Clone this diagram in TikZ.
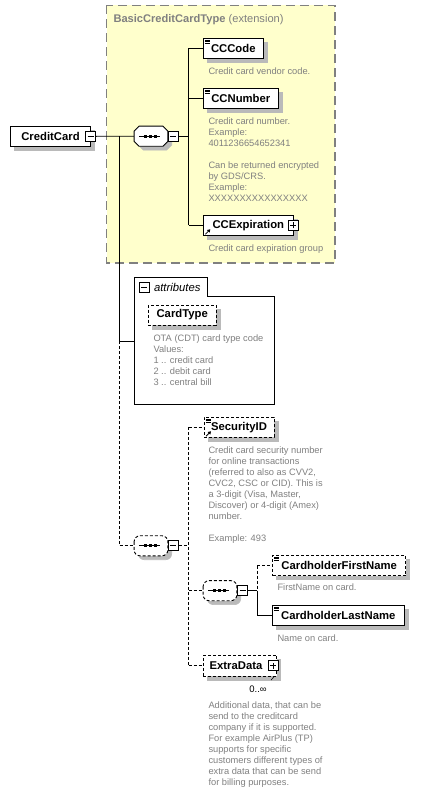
\documentclass[tikz,border=0pt]{standalone}
\usepackage{fontspec}
\setmainfont{Liberation Sans}
\usetikzlibrary{calc,arrows.meta}
\definecolor{ylw}{RGB}{255,255,204}
\definecolor{dgray}{RGB}{128,128,128}
\definecolor{shd}{RGB}{186,186,186}
\pgfdeclarelayer{back}
\pgfdeclarelayer{wires}
\pgfsetlayers{back,wires,main}
\newcommand\docico[1]{%
  \draw[line width=0.6pt] ($(#1.north west)+(2,2)$) -- ++(5,0);
  \draw[line width=0.6pt] ($(#1.north west)+(2,3.6)$) -- ++(5,0);
  \draw[line width=0.6pt] ($(#1.north west)+(2,5.2)$) -- ++(5,0);}
\newcommand\refico[1]{%
  \draw[line width=0.8pt,-{Triangle[length=3pt,width=3.5pt]}] ($(#1.south west)+(2.5,-1.5)$) -- ($(#1.south west)+(7.5,-6.5)$);}
\newcommand\seqsym[1]{%
  \draw[line width=0.9pt] ($(#1.center)+(-12,0)$) -- ($(#1.center)+(9,0)$);
  \fill ($(#1.center)+(-7.5,-1.5)$) rectangle ++(3,3);
  \fill ($(#1.center)+(-2.5,-1.5)$) rectangle ++(3,3);
  \fill ($(#1.center)+(2.5,-1.5)$) rectangle ++(3,3);}
\begin{document}
\begin{tikzpicture}[x=1pt,y=-1pt,
  elem/.style={draw=black,fill=white,line width=0.9pt,inner sep=0pt,
    font=\fontsize{11.3}{13}\selectfont\bfseries},
  shadowbox/.style={fill=shd,draw=shd,line width=0.6pt},
  opt/.style={dash pattern=on 3pt off 2pt},
  wire/.style={line width=0.9pt,black},
  pmbox/.style={draw=black,fill=white,line width=0.9pt,minimum size=10pt,inner sep=0pt},
  minusbox/.style={pmbox,path picture={\draw[line width=0.9pt] ([xshift=-3pt]path picture bounding box.center) -- ([xshift=3pt]path picture bounding box.center);}},
  plusbox/.style={pmbox,path picture={\draw[line width=0.9pt] ([xshift=-3pt]path picture bounding box.center) -- ([xshift=3pt]path picture bounding box.center) ([yshift=-3pt]path picture bounding box.center) -- ([yshift=3pt]path picture bounding box.center);}},
  seqbox/.style={inner sep=0pt,minimum width=33.4pt,minimum height=19.7pt},
  desc/.style={anchor=north west,inner sep=0pt,align=left,text=dgray,
    font=\fontsize{9.3}{11}\selectfont}
]
\useasboundingbox (0,0) rectangle (434,792);

% extension box
\begin{pgfonlayer}{back}
\filldraw[fill=ylw,draw=dgray,line width=1.1pt,dash pattern=on 9pt off 5pt]
  (106.7,5.3) rectangle (335,263);
\end{pgfonlayer}
\node[anchor=base west,inner sep=0pt,text=dgray,font=\fontsize{11.1}{13}\selectfont]
  (title) at (113.3,23) {\textbf{BasicCreditCardType} (extension)};

% shadows
\filldraw[shadowbox] (14.3,130.3) rectangle (94.7,150);
\filldraw[shadowbox] (207.3,42.3) rectangle (267.3,62.3);
\filldraw[shadowbox] (207.3,92.3) rectangle (282.3,112.3);
\filldraw[shadowbox] (207.3,219.3) rectangle (297.3,239.3);
\filldraw[shadowbox] (208,421.3) rectangle (278,441.3);
\filldraw[shadowbox] (276.7,559.3) rectangle (409.7,579.7);
\filldraw[shadowbox] (276.3,609.3) rectangle (408.3,629.3);
\filldraw[shadowbox] (207.3,659.3) rectangle (280.7,680);
\filldraw[shadowbox] (143.3,130.3) -- (166.7,130.3) -- (171.7,135.3) -- (171.7,145) -- (166.7,150) -- (143.3,150) -- (138.3,145) -- (138.3,135.3) -- cycle;
\filldraw[shadowbox,rounded corners=6pt] (138.3,540) rectangle (171.7,559.7);
\filldraw[shadowbox,rounded corners=6pt] (207.3,584.9) rectangle (240.7,604.6);

% main element
\node[elem,minimum width=80.4pt,minimum height=19.7pt] (cc) at (50.5,136.2) {CreditCard};
\node[minusbox] (ccm) at (90.7,136.3) {};

% sequence 1
\node[seqbox] (seq1) at (151,136.2) {};
\filldraw[fill=white,line width=0.9pt] ($(seq1.north west)+(5,0)$) -- ($(seq1.north east)+(-5,0)$) -- ($(seq1.north east)+(0,5)$)
    -- ($(seq1.south east)+(0,-5)$) -- ($(seq1.south east)+(-5,0)$) -- ($(seq1.south west)+(5,0)$)
    -- ($(seq1.south west)+(0,-5)$) -- ($(seq1.north west)+(0,5)$) -- cycle;
\seqsym{seq1}
\node[minusbox] (seq1m) at (173.3,136.3) {};

\node[elem,minimum width=60pt,minimum height=20pt] (ccc) at (233.3,48.3) {CCCode};
\docico{ccc}
\node[desc] (cccd) at (208.3,66.3) {\strut Credit card vendor code.};

\node[elem,minimum width=75pt,minimum height=20pt] (ccn) at (240.8,98.3) {CCNumber};
\docico{ccn}
\node[desc] (ccnd) at (208.3,116.3) {\strut Credit card number.\\Example:\\4011236654652341\\[11pt]Can be returned encrypted\\by GDS/CRS.\\Example:\\XXXXXXXXXXXXXXXX};

\node[elem,minimum width=90pt,minimum height=20pt] (cce) at (248.3,225.3) {CCExpiration};
\refico{cce}
\node[plusbox] (cceplus) at (293.3,225.3) {};
\node[desc] (cced) at (208.3,243.3) {\strut Credit card expiration group};

% attributes
\draw[line width=0.9pt,fill=white] (134.3,277.3) -- (207.3,277.3) -- (207.3,296) -- (274.3,296) -- (274.3,404.3) -- (134.3,404.3) -- cycle;
\filldraw[shadowbox] (152.3,309) rectangle (220,329);
\node[minusbox] (attm) at (144.3,287.7) {};
\node[anchor=west,inner sep=0pt,font=\fontsize{11.3}{13}\selectfont\itshape] (attl) at (153.8,287) {attributes};
\coordinate (attrL) at (134.3,341);
\node[elem,opt,minimum width=67.7pt,minimum height=20pt] (ctype) at (182.2,315) {CardType};
\node[desc] (ctyped) at (153.3,333.3) {\strut OTA (CDT) card type code\\Values:\\1 .. credit card\\2 .. debit card\\3 .. central bill};

% sequence 2
\node[seqbox] (seq2) at (151,545.8) {};
\draw[fill=white,line width=0.9pt,opt,rounded corners=6pt] (seq2.north west) rectangle (seq2.south east);
\seqsym{seq2}
\node[minusbox] (seq2m) at (173.3,545.8) {};

\node[elem,opt,minimum width=70pt,minimum height=20pt] (sid) at (239,427.3) {SecurityID};
\docico{sid}
\refico{sid}
\node[desc] (sidd) at (208.3,445.6) {\strut Credit card security number\\for online transactions\\(referred to also as CVV2,\\CVC2, CSC or CID). This is\\a 3-digit (Visa, Master,\\Discover) or 4-digit (Amex)\\number.\\[11pt]Example: 493};

% sequence 3
\node[seqbox] (seq3) at (220,590.7) {};
\draw[fill=white,line width=0.9pt,opt,rounded corners=6pt] (seq3.north west) rectangle (seq3.south east);
\seqsym{seq3}
\node[minusbox] (seq3m) at (242.7,590.7) {};

\node[elem,opt,minimum width=133pt,minimum height=20.4pt] (fn) at (339.2,565.5) {CardholderFirstName};
\docico{fn}
\node[desc] (fnd) at (277.3,582.9) {\strut FirstName on card.};

\node[elem,minimum width=132pt,minimum height=20pt] (ln) at (338.3,615.3) {CardholderLastName};
\docico{ln}
\node[desc] (lnd) at (277.3,633.3) {\strut Name on card.};

\node[elem,opt,minimum width=73.4pt,minimum height=20.7pt] (xd) at (240,665.7) {\hspace*{-8pt}ExtraData};
\node[plusbox] (xdplus) at (273.3,665.7) {};
\draw[line width=0.6pt] ($(xd.south east)+(-3,0)$) -- ++(-3,3.5);
\node[inner sep=0pt,font=\fontsize{9.5}{11}\selectfont] (xdm) at (258,689) {0..∞};
\node[desc] (xdd) at (208.3,700.6) {\strut Additional data, that can be\\send to the creditcard\\company if it is supported.\\For example AirPlus (TP)\\supports for specific\\customers different types of\\extra data that can be send\\for billing purposes.};

% connectors
\coordinate (j1) at (119.3,136.3);
\coordinate (j2) at (119.3,341);
\coordinate (b1) at (188.5,0);
\coordinate (b2) at (188.5,0);
\coordinate (b3) at (257.3,0);
\begin{pgfonlayer}{wires}
\draw[wire] (ccm.east) -- (seq1.west);
\draw[wire] (j1) -- (j2) -- (attrL);
\draw[wire,opt] (j2) -- (j2 |- seq2.west) -- (seq2.west);
\draw[wire] (seq1m.east) -- (seq1m.east -| b1);
\draw[wire] (ccc.west -| b1) -- (cce.west -| b1);
\draw[wire] (ccc.west -| b1) -- (ccc.west);
\draw[wire] (ccn.west -| b1) -- (ccn.west);
\draw[wire] (cce.west -| b1) -- (cce.west);
\draw[wire,opt] (seq2m.east) -- (seq2m.east -| b2);
\draw[wire,opt] (sid.west -| b2) -- (xd.west -| b2);
\draw[wire,opt] (sid.west -| b2) -- (sid.west);
\draw[wire,opt] (seq3.west -| b2) -- (seq3.west);
\draw[wire,opt] (xd.west -| b2) -- (xd.west);
\draw[wire] (seq3m.east) -- (seq3m.east -| b3);
\draw[wire,opt] (fn.west -| b3) -- (seq3m.east -| b3);
\draw[wire] (seq3m.east -| b3) -- (ln.west -| b3) -- (ln.west);
\draw[wire,opt] (fn.west -| b3) -- (fn.west);
\end{pgfonlayer}
\end{tikzpicture}
\end{document}
